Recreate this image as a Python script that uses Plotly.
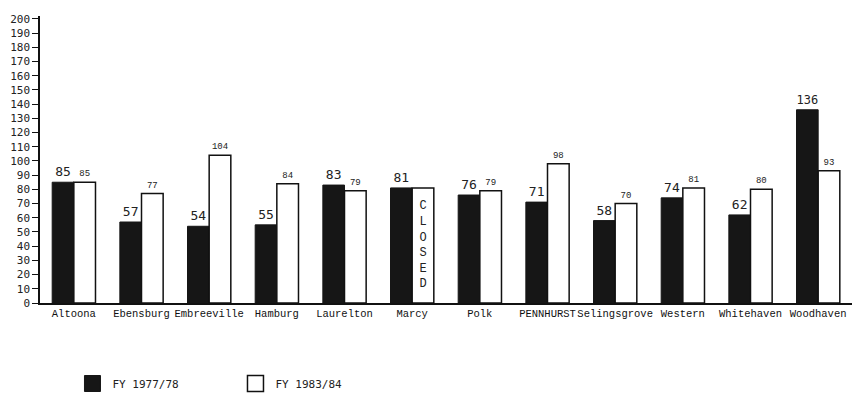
import plotly.graph_objects as go

centers = ["Altoona", "Ebensburg", "Embreeville", "Hamburg", "Laurelton", "Marcy",
           "Polk", "PENNHURST", "Selingsgrove", "Western", "Whitehaven", "Woodhaven"]
fy7778 = [85, 57, 54, 55, 83, 81, 76, 71, 58, 74, 62, 136]
fy8384 = [85, 77, 104, 84, 79, None, 79, 98, 70, 81, 80, 93]  # None = closed
y_ticks = list(range(0, 201, 10))

# closed facility is drawn as an empty box the height of its earlier value
y8384_plot = [b if b is not None else a for a, b in zip(fy7778, fy8384)]
text8384 = [str(b) if b is not None else "C<br>L<br>O<br>S<br>E<br>D" for b in fy8384]
pos8384 = ["outside" if b is not None else "inside" for b in fy8384]

fig = go.Figure()
fig.add_trace(go.Bar(
    x=centers, y=fy7778, name="FY 1977/78",
    marker=dict(color="#161616", line=dict(color="#161616", width=1)),
    text=[str(v) for v in fy7778], textposition="outside",
    textfont=dict(family="DejaVu Sans Mono", size=13, color="#222"),
    cliponaxis=False, showlegend=False,
))
fig.add_trace(go.Bar(
    x=centers, y=y8384_plot, name="FY 1983/84",
    marker=dict(color="white", line=dict(color="#111", width=1.5)),
    text=text8384, textposition=pos8384, insidetextanchor="middle",
    textfont=dict(family="Liberation Mono", size=9, color="#222"),
    insidetextfont=dict(family="Liberation Mono", size=12, color="#222"),
    cliponaxis=False, showlegend=False,
))
# legend entries with larger square swatches
fig.add_trace(go.Scatter(x=[None], y=[None], mode="markers", name="FY 1977/78",
                         marker=dict(symbol="square", size=20, color="#161616",
                                     line=dict(color="#161616", width=1))))
fig.add_trace(go.Scatter(x=[None], y=[None], mode="markers", name="FY 1983/84",
                         marker=dict(symbol="square", size=20, color="white",
                                     line=dict(color="#111", width=1.5))))

fig.update_layout(
    width=858, height=399,
    margin=dict(l=40, r=6, t=16, b=96, autoexpand=False),
    paper_bgcolor="white", plot_bgcolor="white",
    barmode="group", bargap=0.36, bargroupgap=0,
    font=dict(family="Liberation Mono", color="#222"),
    legend=dict(orientation="h", x=0.04, y=-0.23, xanchor="left", yanchor="top",
                font=dict(family="DejaVu Sans Mono", size=11, color="#222"),
                itemsizing="trace", entrywidth=118, entrywidthmode="pixels"),
    xaxis=dict(type="category", showline=True, linecolor="#111", linewidth=1.5,
               ticks="", showgrid=False, tickangle=0,
               tickfont=dict(family="Liberation Mono", size=10.5, color="#111")),
    yaxis=dict(range=[0, 202], tickvals=y_ticks, showline=True, linecolor="#111",
               linewidth=1.5, ticks="outside", ticklen=6, tickcolor="#111",
               showgrid=False, zeroline=False,
               tickfont=dict(family="DejaVu Sans Mono", size=11, color="#222")),
)

fig.write_html("out.html")
